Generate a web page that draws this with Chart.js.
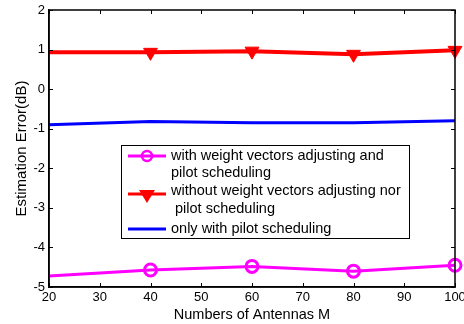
<!DOCTYPE html>
<html>
<head>
<meta charset="utf-8">
<script src="https://cdn.jsdelivr.net/npm/chart.js@4/dist/chart.umd.min.js"></script>
<style>
  html, body { margin: 0; padding: 0; background: #fff; }
  #wrap { width: 464px; height: 324px; position: relative; overflow: hidden; }
</style>
</head>
<body>
<div id="wrap"><canvas id="myChart" width="464" height="324"></canvas></div>
<script>
'use strict';

const antennas = [20, 40, 60, 80, 100];
const withAdjusting = [-4.72, -4.57, -4.48, -4.60, -4.45];
const withoutAdjusting = [0.93, 0.93, 0.96, 0.88, 0.98];
const onlyPilot = [-0.90, -0.82, -0.85, -0.85, -0.80];
const yTicks = [-5, -4, -3, -2, -1, 0, 1, 2];
const xTicks = [20, 30, 40, 50, 60, 70, 80, 90, 100];

const legendLabels = [
    ['with weight vectors adjusting and', 'pilot scheduling'],
    ['without weight vectors adjusting nor', ' pilot scheduling'],
    ['only with pilot scheduling']
];

const font = 'Liberation Sans, Arial, Helvetica, sans-serif';

function toPoints(values) {
    return antennas.map(function(a, i) { return { x: a, y: values[i] }; });
}

/* inside tick marks + box like matlab */
const boxTicks = {
    id: 'boxTicks',
    afterDraw(chart) {
        const ctx = chart.ctx;
        const area = chart.chartArea;
        const xs = chart.scales.x;
        const ys = chart.scales.y;
        ctx.save();
        ctx.strokeStyle = '#000';
        ctx.lineWidth = 1;
        ctx.beginPath();
        for (let v of xTicks) {
            const px = Math.round(xs.getPixelForValue(v)) + 0.5;
            ctx.moveTo(px, area.bottom); ctx.lineTo(px, area.bottom - 4);
            ctx.moveTo(px, area.top); ctx.lineTo(px, area.top + 4);
        }
        for (let v of yTicks) {
            const py = Math.round(ys.getPixelForValue(v)) + 0.5;
            ctx.moveTo(area.left, py); ctx.lineTo(area.left + 4, py);
            ctx.moveTo(area.right, py); ctx.lineTo(area.right - 4, py);
        }
        ctx.stroke();
        ctx.lineWidth = 1.5;
        ctx.strokeRect(area.left, area.top, area.right - area.left, area.bottom - area.top);
        ctx.restore();
    }
};

/* legend box with two-line labels */
const boxLegend = {
    id: 'boxLegend',
    afterDraw(chart) {
        const ctx = chart.ctx;
        const bx = 121, by = 145, bw = 288, bh = 93;
        ctx.save();
        ctx.fillStyle = '#fff';
        ctx.fillRect(bx, by, bw, bh);
        ctx.strokeStyle = '#000';
        ctx.lineWidth = 1;
        ctx.strokeRect(bx + 0.5, by + 0.5, bw, bh);

        const rows = [
            { lineY: 156, textY: [156, 173] },
            { lineY: 194, textY: [191, 209] },
            { lineY: 229, textY: [229] }
        ];
        const sets = chart.data.datasets;
        ctx.font = '14.5px ' + font;
        ctx.textBaseline = 'middle';
        rows.forEach(function(row, i) {
            const ds = sets[i];
            ctx.strokeStyle = ds.borderColor;
            ctx.lineWidth = 3;
            ctx.beginPath();
            ctx.moveTo(128, row.lineY);
            ctx.lineTo(166, row.lineY);
            ctx.stroke();
            if (i === 0) {
                ctx.lineWidth = 2.5;
                ctx.beginPath();
                ctx.arc(147, row.lineY, 5, 0, Math.PI * 2);
                ctx.stroke();
            } else if (i === 1) {
                ctx.fillStyle = ds.borderColor;
                ctx.beginPath();
                ctx.moveTo(139, row.lineY - 4);
                ctx.lineTo(155, row.lineY - 4);
                ctx.lineTo(147, row.lineY + 9);
                ctx.closePath();
                ctx.fill();
            }
            ctx.fillStyle = '#000';
            legendLabels[i].forEach(function(t, k) {
                ctx.fillText(t, 171, row.textY[k]);
            });
        });
        ctx.restore();
    }
};

const ctx = document.getElementById('myChart').getContext('2d');

const chart = new Chart(ctx, {
    type: 'line',
    data: {
        datasets: [
            {
                label: legendLabels[0].join(' '),
                data: toPoints(withAdjusting),
                borderColor: '#ff00ff',
                backgroundColor: 'rgba(0,0,0,0)',
                borderWidth: 3,
                pointStyle: 'circle',
                pointRadius: [0, 6, 6, 6, 6],
                pointBorderWidth: 3,
                pointBackgroundColor: 'rgba(255,255,255,0)',
                pointBorderColor: '#ff00ff'
            },
            {
                label: legendLabels[1].join(' '),
                data: toPoints(withoutAdjusting),
                borderColor: '#ff0000',
                backgroundColor: '#ff0000',
                borderWidth: 4,
                pointStyle: 'triangle',
                pointRotation: 180,
                pointRadius: [0, 8, 8, 8, 8],
                pointBorderWidth: 1,
                pointBackgroundColor: '#ff0000',
                pointBorderColor: '#ff0000'
            },
            {
                label: legendLabels[2][0],
                data: toPoints(onlyPilot),
                borderColor: '#0000ff',
                backgroundColor: '#0000ff',
                borderWidth: 3,
                pointRadius: 0
            }
        ]
    },
    options: {
        responsive: false,
        animation: false,
        clip: false,
        layout: { padding: { top: 10, right: 2, left: 0, bottom: 0 } },
        plugins: {
            legend: { display: false },
            tooltip: { enabled: false }
        },
        scales: {
            x: {
                type: 'linear',
                min: 20,
                max: 100,
                afterBuildTicks(scale) {
                    scale.ticks = xTicks.map(function(v) { return { value: v }; });
                },
                afterFit(scale) {
                    scale.height = 37;
                    scale.paddingRight = 0;
                    scale.paddingLeft = 0;
                },
                grid: { display: false, drawTicks: false },
                border: { color: '#000', width: 1.5 },
                ticks: { color: '#000', font: { family: font, size: 13 }, padding: 3, maxRotation: 0 },
                title: {
                    display: true,
                    text: 'Numbers of Antennas M',
                    color: '#000',
                    font: { family: font, size: 14.5 },
                    padding: { top: 0, bottom: 0 }
                }
            },
            y: {
                min: -5,
                max: 2,
                afterBuildTicks(scale) {
                    scale.ticks = yTicks.map(function(v) { return { value: v }; });
                },
                afterFit(scale) {
                    scale.width = 49;
                    scale.paddingTop = 0;
                    scale.paddingBottom = 0;
                },
                grid: { display: false, drawTicks: false },
                border: { color: '#000', width: 1.5 },
                ticks: { color: '#000', font: { family: font, size: 13 }, padding: 4 },
                title: {
                    display: true,
                    text: 'Estimation Error(dB)',
                    color: '#000',
                    font: { family: font, size: 15 },
                    padding: { top: 13, bottom: 0 }
                }
            }
        }
    },
    plugins: [boxTicks, boxLegend]
});
</script>
</body>
</html>
